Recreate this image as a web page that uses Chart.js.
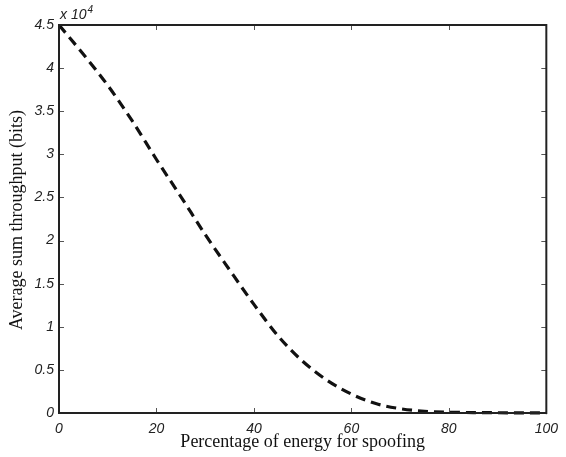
<!DOCTYPE html>
<html>
<head>
<meta charset="utf-8">
<script src="https://cdn.jsdelivr.net/npm/chart.js@4"></script>
<style>
  html, body { margin: 0; padding: 0; background: #fff; }
  #wrap { width: 566px; height: 457px; }
</style>
</head>
<body>
<div id="wrap"><canvas id="myChart" width="566" height="457"></canvas></div>
<script>
// 讀圖估計的數據 (bits)
var energyPercent = [0, 5, 10, 15, 20, 25, 30, 35, 40, 45, 50, 55, 60, 65, 70, 75, 80, 85, 90, 95, 100];
var sumThroughput = [45000, 41600, 38000, 33900, 29400, 25100, 20700, 16600, 12600, 8900, 6000, 3800,
                     2200, 1100, 500, 200, 90, 50, 30, 20, 20];
var xTicks = [0, 20, 40, 60, 80, 100];
var yTicks = [0, 5000, 10000, 15000, 20000, 25000, 30000, 35000, 40000, 45000];

var xTitle = 'Percentage of energy for spoofing';
var yTitle = 'Average sum throughput (bits)';

var points = energyPercent.map((x, i) => ({ x: x, y: sumThroughput[i] }));

// 畫外框、內側刻度、標題與 x 10^4
var matlabFrame = {
    id: 'matlabFrame',
    afterDraw: function (chart) {
        var ctx = chart.ctx;
        var a = chart.chartArea;
        var sx = chart.scales.x, sy = chart.scales.y;
        ctx.save();
        ctx.strokeStyle = '#555';
        ctx.lineWidth = 1;
        xTicks.forEach(function (v) {
            var px = Math.round(sx.getPixelForValue(v)) + 0.5;
            ctx.beginPath();
            ctx.moveTo(px, a.bottom); ctx.lineTo(px, a.bottom - 5);
            ctx.moveTo(px, a.top); ctx.lineTo(px, a.top + 5);
            ctx.stroke();
        });
        yTicks.forEach(function (v) {
            var py = Math.round(sy.getPixelForValue(v)) + 0.5;
            ctx.beginPath();
            ctx.moveTo(a.left, py); ctx.lineTo(a.left + 5, py);
            ctx.moveTo(a.right, py); ctx.lineTo(a.right - 5, py);
            ctx.stroke();
        });
        ctx.strokeStyle = '#222';
        ctx.lineWidth = 2;
        ctx.strokeRect(a.left, a.top, a.right - a.left, a.bottom - a.top);

        ctx.fillStyle = '#222';
        ctx.font = 'italic 14px "Liberation Sans", Arial, sans-serif';
        ctx.textAlign = 'left';
        ctx.textBaseline = 'alphabetic';
        ctx.fillText('x 10', a.left + 1, a.top - 6);
        var w = ctx.measureText('x 10').width;
        ctx.font = 'italic 10px "Liberation Sans", Arial, sans-serif';
        ctx.fillText('4', a.left + 1 + w + 1, a.top - 12);

        ctx.fillStyle = '#111';
        ctx.font = '18px "Liberation Serif", "Times New Roman", serif';
        ctx.textAlign = 'center';
        ctx.textBaseline = 'middle';
        ctx.fillText(xTitle, (a.left + a.right) / 2, 442);
        ctx.translate(17, (a.top + a.bottom) / 2 + 1);
        ctx.rotate(-Math.PI / 2);
        ctx.fillText(yTitle, 0, 0);
        ctx.restore();
    }
};

var ctx = document.getElementById('myChart').getContext('2d');
var myChart = new Chart(ctx, {
    type: 'line',
    data: {
        datasets: [{
            label: 'throughput',
            data: points,
            borderColor: '#111',
            borderWidth: 3.2,
            borderDash: [10, 6],
            pointRadius: 0,
            fill: false,
            cubicInterpolationMode: 'monotone',
            clip: 4
        }]
    },
    options: {
        responsive: false,
        animation: false,
        layout: { padding: { left: 0, top: 25, right: 15, bottom: 0 } },
        scales: {
            x: {
                type: 'linear',
                min: 0,
                max: 100,
                afterFit: function (scale) { scale.height = 44; },
                afterBuildTicks: function (scale) { scale.ticks = xTicks.map(v => ({ value: v })); },
                grid: { display: false, drawTicks: false },
                border: { display: false },
                ticks: {
                    padding: 8,
                    color: '#222',
                    font: { family: '"Liberation Sans", Arial, sans-serif', size: 14, style: 'italic' },
                    maxRotation: 0
                }
            },
            y: {
                type: 'linear',
                min: 0,
                max: 45000,
                afterFit: function (scale) { scale.width = 59; },
                afterBuildTicks: function (scale) { scale.ticks = yTicks.map(v => ({ value: v })); },
                grid: { display: false, drawTicks: false },
                border: { display: false },
                ticks: {
                    padding: 5,
                    color: '#222',
                    font: { family: '"Liberation Sans", Arial, sans-serif', size: 14, style: 'italic' },
                    callback: function (value) {
                        return String(Math.round(value / 1000) / 10);
                    }
                }
            }
        },
        plugins: {
            legend: { display: false },
            tooltip: { enabled: false }
        }
    },
    plugins: [matlabFrame]
});
</script>
</body>
</html>
